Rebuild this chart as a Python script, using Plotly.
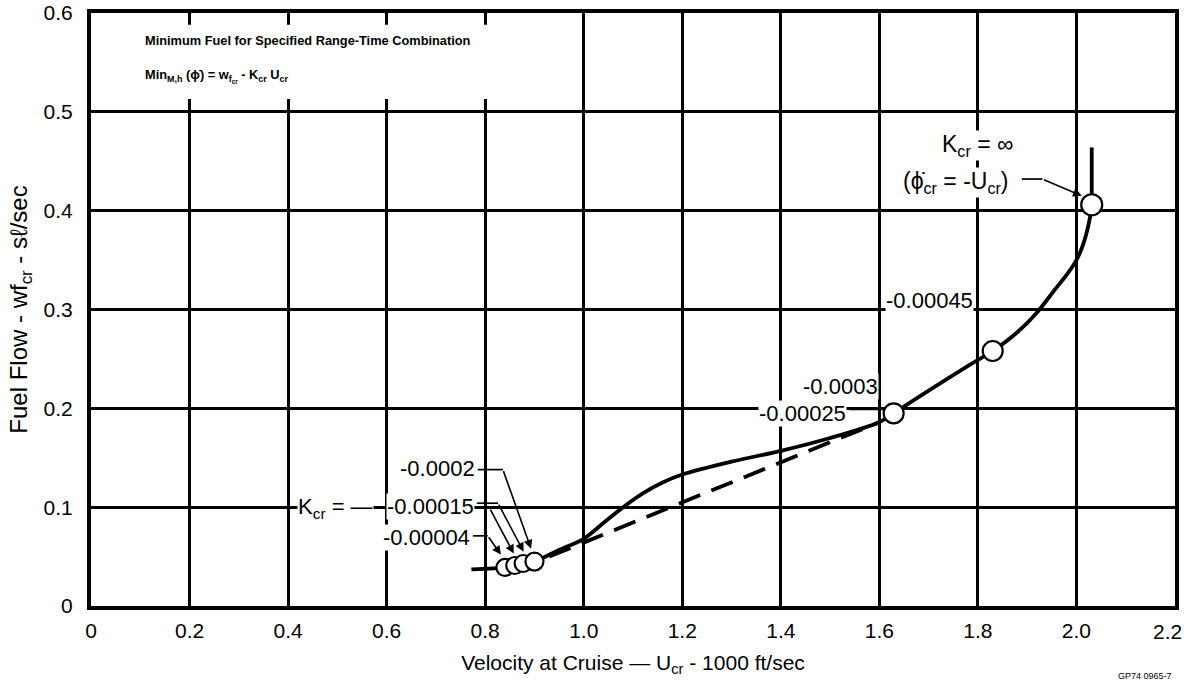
import plotly.graph_objects as go

# Minimum-fuel cruise locus (velocity in 1000 ft/sec, fuel flow in sl/sec)
solid_x = [0.772, 0.84, 0.86, 0.877, 0.90, 0.947, 1.0, 1.04, 1.08, 1.12, 1.16, 1.20, 1.30,
           1.40, 1.50, 1.60, 1.629, 1.70, 1.78, 1.83, 1.88, 1.92, 1.956, 1.98, 2.0, 2.015,
           2.027, 2.031]
solid_y = [0.037, 0.039, 0.041, 0.043, 0.045, 0.056, 0.068, 0.084, 0.100, 0.114, 0.125, 0.133,
           0.146, 0.157, 0.170, 0.186, 0.195, 0.218, 0.243, 0.258, 0.277, 0.297, 0.320, 0.335,
           0.350, 0.368, 0.392, 0.406]

# Straight dashed chord
dash_x = [0.93, 1.60]
dash_y = [0.050, 0.186]

# Vertical extension above the K = infinity point
stem_x = [2.031, 2.031]
stem_y = [0.406, 0.464]

# Marked K_cr points
pt_x = [0.84, 0.86, 0.877, 0.90, 1.629, 1.830, 2.031]
pt_y = [0.039, 0.041, 0.043, 0.045, 0.195, 0.258, 0.406]

x_ticks = [0, 0.2, 0.4, 0.6, 0.8, 1.0, 1.2, 1.4, 1.6, 1.8, 2.0, 2.2]
x_tick_text = ["0", "0.2", "0.4", "0.6", "0.8", "1.0", "1.2", "1.4", "1.6", "1.8", "2.0", "2.2"]
y_ticks = [0, 0.1, 0.2, 0.3, 0.4, 0.5, 0.6]
y_tick_text = ["0", "0.1", "0.2", "0.3", "0.4", "0.5", "0.6"]

FONT = "Liberation Sans, Arial, sans-serif"

fig = go.Figure()

fig.add_trace(go.Scatter(x=dash_x, y=dash_y, mode="lines",
                         line=dict(color="black", width=3.8, dash="23px,12px"),
                         hoverinfo="skip"))
fig.add_trace(go.Scatter(x=solid_x, y=solid_y, mode="lines",
                         line=dict(color="black", width=3.8, shape="spline", smoothing=0.8),
                         hoverinfo="skip"))
fig.add_trace(go.Scatter(x=stem_x, y=stem_y, mode="lines",
                         line=dict(color="black", width=3.8), hoverinfo="skip"))
fig.add_trace(go.Scatter(x=pt_x, y=pt_y, mode="markers",
                         marker=dict(size=[17, 17, 17, 18, 20, 20, 21], color="white",
                                     opacity=1, line=dict(color="black", width=2.2)),
                         hoverinfo="skip"))

# Blank panel behind the heading text
fig.add_shape(type="rect", xref="x", yref="y", x0=0.012, x1=0.86, y0=0.513, y1=0.588,
              fillcolor="white", line=dict(width=0), layer="above")

# Leader lines: horizontal run, then an arrow to the point
leaders = [
    # (start_x, start_y, elbow_x, tip_x, tip_y)
    (1.889, 0.432, 1.931, 2.011, 0.415),
    (0.785, 0.138, 0.836, 0.893, 0.058),
    (0.783, 0.104, 0.826, 0.878, 0.055),
    (0.783, 0.099, 0.809, 0.858, 0.053),
    (0.775, 0.071, 0.805, 0.832, 0.052),
]
for sx, sy, ex, tx, ty in leaders:
    fig.add_shape(type="line", xref="x", yref="y", x0=sx, y0=sy, x1=ex, y1=sy,
                  line=dict(color="black", width=1.7), layer="above")
    fig.add_annotation(x=tx, y=ty, ax=ex, ay=sy, xref="x", yref="y", axref="x", ayref="y",
                       text="", showarrow=True, arrowhead=2, arrowsize=1.1,
                       arrowwidth=1.6, arrowcolor="black", standoff=0)
fig.add_shape(type="line", xref="x", yref="y", x0=1.540, y0=0.199, x1=1.609, y1=0.199,
              line=dict(color="black", width=1.7), layer="above")


def label(x, y, text, xanchor="center", size=22):
    fig.add_annotation(x=x, y=y, xref="x", yref="y", text=text, showarrow=False,
                       xanchor=xanchor, yanchor="middle", bgcolor="white", borderpad=0,
                       font=dict(family=FONT, size=size, color="black"))


label(0.782, 0.139, "-0.0002", xanchor="right")
label(0.780, 0.101, "-0.00015", xanchor="right")
label(0.772, 0.069, "-0.00004", xanchor="right")
label(0.575, 0.099, "K<sub>cr</sub> = —", xanchor="right")
label(1.702, 0.309, "-0.00045")
label(1.522, 0.222, "-0.0003")
label(1.444, 0.195, "-0.00025")
label(1.800, 0.466, "K<sub>cr</sub> = ∞", size=23)
label(1.756, 0.428, "(ϕ̇<sub>cr</sub> = -U<sub>cr</sub>)", size=23)

# Heading
fig.add_annotation(x=0.105, y=0.572, xref="x", yref="y", xanchor="left", yanchor="middle",
                   text="<b>Minimum Fuel for Specified Range-Time Combination</b>",
                   showarrow=False, font=dict(family=FONT, size=12.8, color="black"))
fig.add_annotation(x=0.105, y=0.536, xref="x", yref="y", xanchor="left", yanchor="middle",
                   text="<b>Min<sub>M,h</sub> (ϕ̇) = w<sub>f<sub>cr</sub></sub> - K<sub>cr</sub> U<sub>cr</sub></b>",
                   showarrow=False, font=dict(family=FONT, size=12.8, color="black"))

# Figure code, bottom right
fig.add_annotation(x=1.0, y=0, xref="paper", yref="paper", text="GP74 0965-7",
                   xanchor="right", yanchor="top", yshift=-63, xshift=-1,
                   showarrow=False, font=dict(family=FONT, size=9, color="black"))

# The last x tick label sits against the right edge, so it is drawn inset
fig.add_annotation(x=x_ticks[-1], y=0, xref="x", yref="paper", text=x_tick_text[-1],
                   xanchor="right", yanchor="middle", xshift=9, yshift=-25,
                   showarrow=False, font=dict(family=FONT, size=21, color="black"))
x_tick_shown = x_tick_text[:-1] + [""]

axis_common = dict(showgrid=True, gridcolor="black", gridwidth=2.8, zeroline=False,
                   showline=True, linecolor="black", linewidth=4, mirror=True,
                   ticks="", automargin=False,
                   tickfont=dict(family=FONT, size=21, color="black"))

fig.update_xaxes(range=[0, 2.2], tickvals=x_ticks, ticktext=x_tick_shown,
                 title=dict(text="Velocity at Cruise — U<sub>cr</sub> - 1000 ft/sec",
                            font=dict(family=FONT, size=21, color="black"), standoff=15),
                 ticklabelstandoff=3, **axis_common)
fig.update_yaxes(range=[0, 0.6], tickvals=y_ticks, ticktext=y_tick_text,
                 title=dict(text="Fuel Flow - wf<sub>cr</sub> - sℓ/sec",
                            font=dict(family=FONT, size=24, color="black"), standoff=10),
                 ticklabelstandoff=10, **axis_common)

fig.update_layout(width=1188, height=687, showlegend=False,
                  margin=dict(l=91, r=13, t=13, b=81),
                  paper_bgcolor="white", plot_bgcolor="white")

fig.write_html("out.html")
